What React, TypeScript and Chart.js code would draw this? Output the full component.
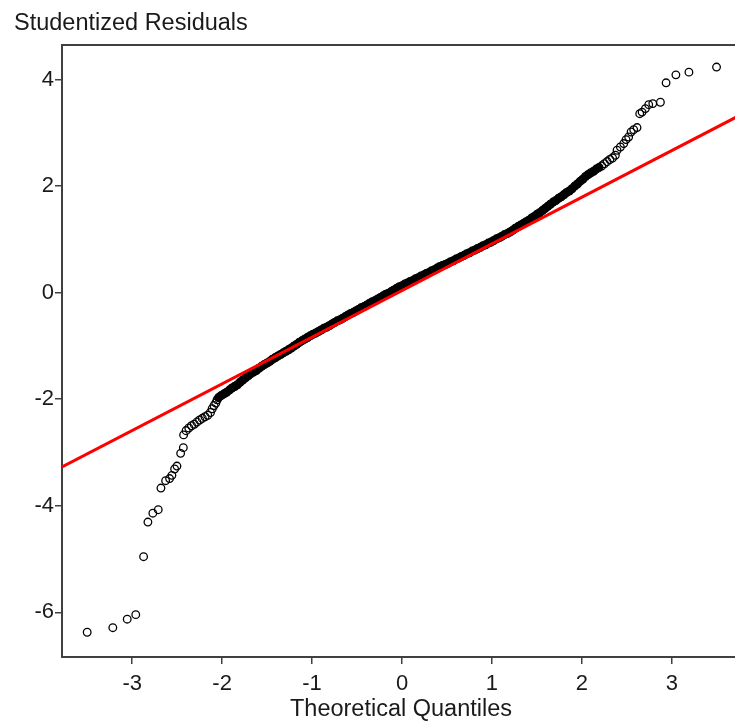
import React, { useEffect, useRef } from "react";
import { Chart, registerables } from "chart.js";

Chart.register(...registerables);

// ---- data ----
const yTitle = "Studentized Residuals";
const xTitle = "Theoretical Quantiles";

const xTicks = [-3, -2, -1, 0, 1, 2, 3];
const yTicks = [-6, -4, -2, 0, 2, 4];

// isolated points in the lower tail
const lowerTailX = [-3.5, -3.215, -3.055, -2.96, -2.873, -2.825, -2.77, -2.71, -2.68, -2.628, -2.584, -2.558, -2.528, -2.502, -2.461, -2.431, -2.428];
const lowerTailY = [-6.375, -6.29, -6.13, -6.045, -4.957, -4.306, -4.14, -4.075, -3.668, -3.53, -3.49, -3.43, -3.31, -3.255, -3.017, -2.91, -2.67];

// dense body of the Q-Q cloud
const bodyX = [
  -2.4, -2.37, -2.34, -2.31, -2.28, -2.25, -2.22, -2.19, -2.16, -2.13, -2.11, -2.09, -2.07, -2.055, -2.04,
  -2.01, -1.98, -1.95, -1.92, -1.89, -1.86, -1.83, -1.8, -1.77, -1.74, -1.71, -1.68, -1.65, -1.62, -1.59,
  -1.56, -1.53, -1.5, -1.47, -1.44, -1.41, -1.38, -1.35, -1.32, -1.29, -1.26, -1.23, -1.2, -1.17, -1.14,
  -1.11, -1.08, -1.05, -1.02, -0.99, -0.96, -0.93, -0.9, -0.87, -0.84, -0.81, -0.78, -0.75, -0.72, -0.69,
  -0.66, -0.63, -0.6, -0.57, -0.54, -0.51, -0.48, -0.45, -0.42, -0.39, -0.36, -0.33, -0.3, -0.27, -0.24,
  -0.21, -0.18, -0.15, -0.12, -0.09, -0.06, -0.03, 0.0, 0.03, 0.06, 0.09, 0.12, 0.15, 0.18, 0.21,
  0.24, 0.27, 0.3, 0.33, 0.36, 0.39, 0.42, 0.45, 0.48, 0.51, 0.54, 0.57, 0.6, 0.63, 0.66,
  0.69, 0.72, 0.75, 0.78, 0.81, 0.84, 0.87, 0.9, 0.93, 0.96, 0.99, 1.02, 1.05, 1.08, 1.11,
  1.14, 1.17, 1.2, 1.23, 1.26, 1.29, 1.32, 1.35, 1.38, 1.41, 1.44, 1.47, 1.5, 1.53, 1.56,
  1.59, 1.62, 1.65, 1.68, 1.71, 1.74, 1.77, 1.8, 1.83, 1.86, 1.89, 1.92, 1.95, 1.98, 2.01,
  2.04, 2.07, 2.1, 2.13, 2.16, 2.19, 2.22, 2.25, 2.28, 2.31, 2.34,
];
const bodyY = [
  -2.59, -2.54, -2.5, -2.47, -2.43, -2.39, -2.36, -2.33, -2.3, -2.25, -2.18, -2.12, -2.07, -2.01, -1.97,
  -1.93, -1.9, -1.87, -1.83, -1.79, -1.76, -1.73, -1.68, -1.64, -1.6, -1.56, -1.52, -1.49, -1.46, -1.42,
  -1.38, -1.35, -1.32, -1.29, -1.25, -1.22, -1.19, -1.16, -1.13, -1.1, -1.07, -1.04, -1.0, -0.97, -0.93,
  -0.9, -0.87, -0.84, -0.81, -0.78, -0.76, -0.73, -0.7, -0.67, -0.65, -0.62, -0.59, -0.56, -0.53, -0.51,
  -0.48, -0.45, -0.42, -0.39, -0.37, -0.34, -0.31, -0.28, -0.26, -0.23, -0.2, -0.17, -0.15, -0.12, -0.09,
  -0.06, -0.03, -0.01, 0.02, 0.05, 0.08, 0.11, 0.13, 0.16, 0.18, 0.21, 0.23, 0.26, 0.28, 0.31,
  0.33, 0.36, 0.38, 0.41, 0.43, 0.46, 0.49, 0.51, 0.53, 0.55, 0.58, 0.6, 0.63, 0.65, 0.68,
  0.7, 0.73, 0.75, 0.78, 0.8, 0.83, 0.85, 0.88, 0.9, 0.93, 0.95, 0.98, 1.01, 1.03, 1.06,
  1.09, 1.11, 1.14, 1.17, 1.21, 1.24, 1.27, 1.3, 1.33, 1.36, 1.4, 1.43, 1.47, 1.5, 1.54,
  1.58, 1.62, 1.66, 1.7, 1.73, 1.77, 1.8, 1.84, 1.88, 1.91, 1.95, 2.0, 2.04, 2.09, 2.13,
  2.18, 2.22, 2.25, 2.28, 2.32, 2.35, 2.38, 2.42, 2.46, 2.5, 2.53,
];

// isolated points in the upper tail
const upperTailX = [2.372, 2.391, 2.428, 2.465, 2.491, 2.52, 2.547, 2.576, 2.613, 2.643, 2.669, 2.706, 2.743, 2.788, 2.873, 2.936, 3.045, 3.19, 3.497];
const upperTailY = [2.58, 2.674, 2.735, 2.8, 2.874, 2.923, 3.017, 3.06, 3.1, 3.36, 3.39, 3.456, 3.53, 3.55, 3.575, 3.94, 4.09, 4.14, 4.236];

// red reference line (ends at the plot edges)
const refLineX = [-3.78, 3.71];
const refLineY = [-3.27, 3.29];

// axis ranges
const xRange = [-3.78, 3.71];
const yRange = [-6.84, 4.65];

const pairs = (xs: number[], ys: number[]) => {
  const n = Math.min(xs.length, ys.length);
  const out: { x: number; y: number }[] = [];
  for (let i = 0; i < n; i++) out.push({ x: xs[i], y: ys[i] });
  return out;
};

export default function App() {
  const ref = useRef<HTMLCanvasElement>(null);

  useEffect(() => {
    document.body.style.margin = "0";
    const font = "'Liberation Sans', Arial, Helvetica, sans-serif";
    const textColor = "#1a1a1a";
    const axisColor = "#404040";

    const frame = {
      id: "frame",
      afterDraw(chart: any) {
        const { ctx, chartArea } = chart;
        ctx.save();
        ctx.strokeStyle = axisColor;
        ctx.lineWidth = 2;
        ctx.beginPath();
        ctx.moveTo(chartArea.left - 1, chartArea.top);
        ctx.lineTo(chart.width, chartArea.top);
        ctx.stroke();
        ctx.fillStyle = textColor;
        ctx.font = `23.5px ${font}`;
        ctx.textAlign = "left";
        ctx.textBaseline = "alphabetic";
        ctx.fillText(yTitle, 14, 30);
        ctx.textAlign = "center";
        ctx.fillText(xTitle, 401, 716);
        ctx.restore();
      },
    };

    const hollow = [
      ...pairs(lowerTailX, lowerTailY),
      ...pairs(upperTailX, upperTailY),
    ];
    const body = pairs(bodyX, bodyY);

    const chart = new Chart(ref.current as HTMLCanvasElement, {
      type: "scatter",
      data: {
        datasets: [
          {
            data: hollow,
            pointStyle: "circle",
            pointRadius: 3.8,
            pointBorderWidth: 1.3,
            pointBorderColor: "#000000",
            pointBackgroundColor: "rgba(0,0,0,0)",
            order: 3,
          },
          {
            data: body,
            pointStyle: "circle",
            pointRadius: 3.9,
            pointBorderWidth: 1.3,
            pointBorderColor: "#000000",
            pointBackgroundColor: (c: any) => {
              const p = c.raw;
              if (!p) return "rgba(0,0,0,0)";
              return p.x > -2.05 && p.x < 2.2 ? "#000000" : "rgba(0,0,0,0)";
            },
            order: 2,
          },
          {
            data: pairs(refLineX, refLineY),
            showLine: true,
            borderColor: "#ff0000",
            borderWidth: 3,
            pointRadius: 0,
            order: 1,
          },
        ],
      },
      options: {
        responsive: false,
        animation: false,
        events: [],
        layout: { padding: { top: 45, left: 0, right: 0, bottom: 0 } },
        plugins: {
          legend: { display: false },
          tooltip: { enabled: false },
          title: { display: false },
        },
        scales: {
          x: {
            type: "linear",
            min: xRange[0],
            max: xRange[1],
            afterBuildTicks: (s: any) => {
              s.ticks = xTicks.map((v) => ({ value: v }));
            },
            afterFit: (s: any) => {
              s.height = 65;
              s.paddingLeft = 0;
              s.paddingRight = 0;
            },
            ticks: {
              font: { family: font, size: 22 },
              color: textColor,
              padding: 7,
              maxRotation: 0,
              callback: (v: any) => String(v),
            },
            grid: {
              display: true,
              drawOnChartArea: false,
              drawTicks: true,
              tickLength: 7,
              color: axisColor,
              lineWidth: 1.5,
            },
            border: { display: true, color: axisColor, width: 2 },
          },
          y: {
            type: "linear",
            min: yRange[0],
            max: yRange[1],
            afterBuildTicks: (s: any) => {
              s.ticks = yTicks.map((v) => ({ value: v }));
            },
            afterFit: (s: any) => {
              s.width = 62;
              s.paddingTop = 0;
              s.paddingBottom = 0;
            },
            ticks: {
              font: { family: font, size: 22 },
              color: textColor,
              padding: 1,
              callback: (v: any) => String(v),
            },
            grid: {
              display: true,
              drawOnChartArea: false,
              drawTicks: true,
              tickLength: 7,
              color: axisColor,
              lineWidth: 1.5,
            },
            border: { display: true, color: axisColor, width: 2 },
          },
        },
      },
      plugins: [frame],
    } as any);

    return () => chart.destroy();
  }, []);

  return (
    <div style={{ width: 735, height: 722, overflow: "hidden" }}>
      <canvas ref={ref} width={741} height={722} style={{ display: "block", width: 741, height: 722 }} />
    </div>
  );
}
